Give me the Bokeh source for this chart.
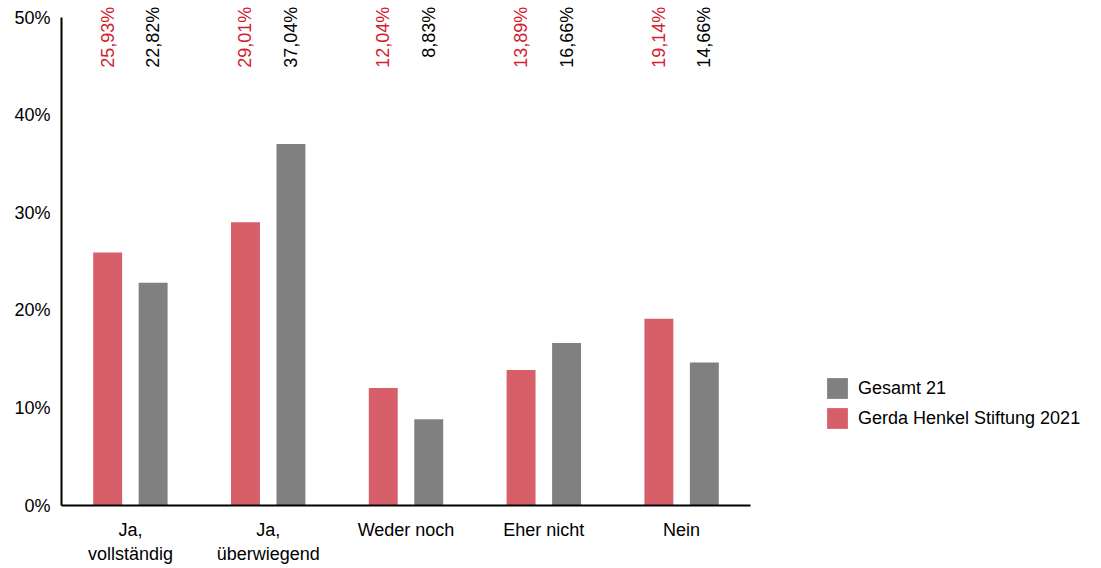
import math
from bokeh.plotting import figure
from bokeh.models import (Range1d, FixedTicker, PrintfTickFormatter, ColumnDataSource,
                          Legend, LegendItem)
from bokeh.core.properties import value
from bokeh.embed import file_html
from bokeh.resources import INLINE

categories = ["Ja,\nvollständig", "Ja,\nüberwiegend", "Weder noch", "Eher nicht", "Nein"]
ghs_2021 = [25.93, 29.01, 12.04, 13.89, 19.14]
gesamt_21 = [22.82, 37.04, 8.83, 16.66, 14.66]
y_ticks = [0, 10, 20, 30, 40, 50]

RED_BAR = "#d75f69"
RED_TEXT = "#d2202f"
GRAY = "#808080"
FONT = "Liberation Sans"

W, H = 1101, 568
n = len(categories)
p = figure(width=W, height=H, output_backend="svg", toolbar_location=None,
           x_range=Range1d(-0.5, 7.047), y_range=Range1d(0, 51.23),
           min_border_left=61, min_border_right=0, min_border_top=5, min_border_bottom=63)
p.outline_line_color = None
p.xgrid.visible = False
p.ygrid.visible = False
p.background_fill_color = "white"
p.border_fill_color = "white"

xs = list(range(n))
off = 0.165
bw = 0.21
src_r = ColumnDataSource(dict(x=[i - off for i in xs], top=ghs_2021,
                              lab=[f"{v:.2f}%".replace(".", ",") for v in ghs_2021]))
src_g = ColumnDataSource(dict(x=[i + off for i in xs], top=gesamt_21,
                              lab=[f"{v:.2f}%".replace(".", ",") for v in gesamt_21]))

r_red = p.vbar(x="x", top="top", width=bw, bottom=0, source=src_r,
               fill_color=RED_BAR, line_color=None)
r_gray = p.vbar(x="x", top="top", width=bw, bottom=0, source=src_g,
                fill_color=GRAY, line_color=None)

p.text(x="x", y=51.1, text="lab", source=src_r, angle=math.pi / 2,
       text_align="right", text_baseline="middle", text_color=RED_TEXT,
       text_font=value(FONT), text_font_size="18px")
p.text(x="x", y=51.1, text="lab", source=src_g, angle=math.pi / 2,
       text_align="right", text_baseline="middle", text_color="black",
       text_font=value(FONT), text_font_size="18px")

# y axis
ya = p.yaxis[0]
ya.ticker = FixedTicker(ticks=y_ticks)
ya.formatter = PrintfTickFormatter(format="%d%%")
ya.bounds = (0, 50)
ya.axis_line_width = 2
ya.axis_line_color = "black"
ya.major_tick_line_color = None
ya.minor_tick_line_color = None
ya.major_label_text_font = FONT
ya.major_label_text_font_size = "18px"
ya.major_label_text_color = "black"
ya.major_label_standoff = 5

# x axis
xa = p.xaxis[0]
xa.ticker = FixedTicker(ticks=xs)
xa.bounds = (-0.5, n - 0.5)
xa.major_label_overrides = {i: c for i, c in zip(xs, categories)}
xa.axis_line_width = 2
xa.axis_line_color = "black"
xa.major_tick_line_color = None
xa.minor_tick_line_color = None
xa.major_label_text_font = FONT
xa.major_label_text_font_size = "18px"
xa.major_label_text_color = "black"
xa.major_label_standoff = 8

legend = Legend(items=[LegendItem(label="Gesamt 21", renderers=[r_gray]),
                       LegendItem(label="Gerda Henkel Stiftung 2021", renderers=[r_red])],
                location=(763, 74), padding=0, margin=0, spacing=4,
                glyph_width=26, glyph_height=26, label_standoff=8,
                label_text_font=FONT, label_text_font_size="18px",
                label_text_color="black",
                border_line_alpha=0, background_fill_alpha=0)
p.add_layout(legend, "center")

open("out.html", "w").write(file_html(p, INLINE))
